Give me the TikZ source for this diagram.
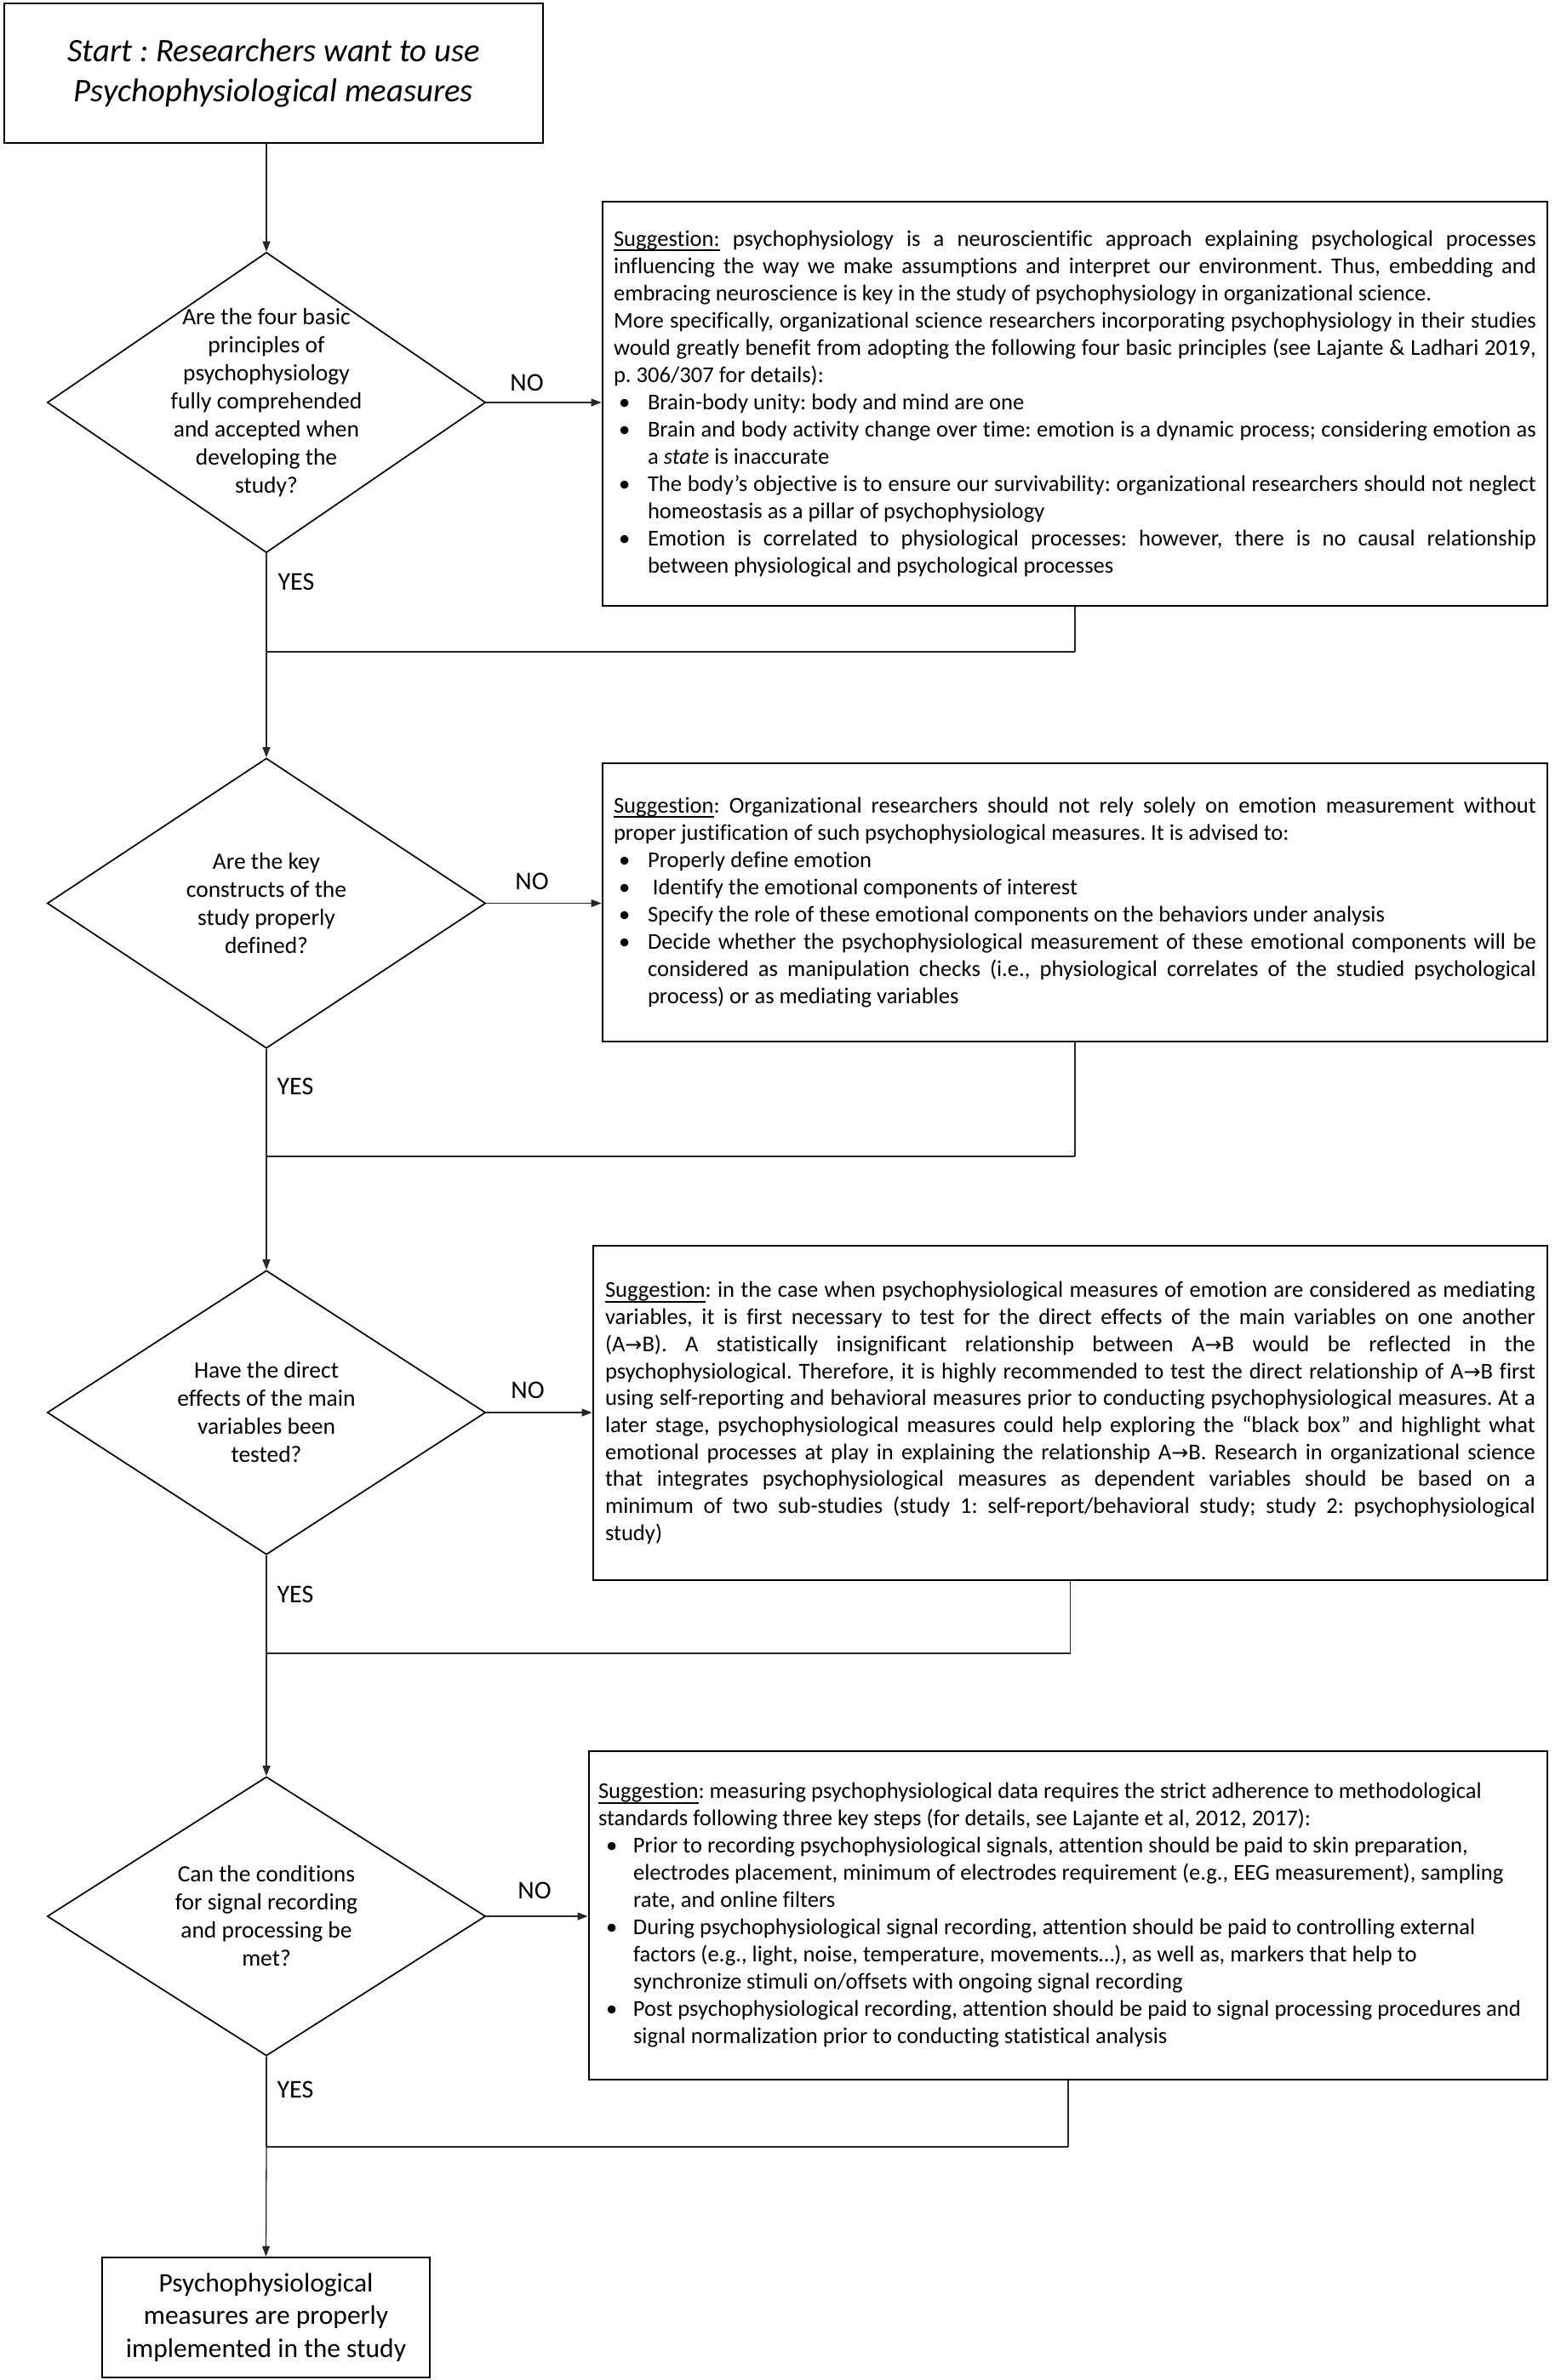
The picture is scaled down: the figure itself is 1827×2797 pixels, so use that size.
\documentclass[tikz,border=0pt]{standalone}
\usepackage{fontspec}
\setmainfont{Carlito}[Ligatures=CommonOff]
\newfontfamily\arrowfont{DejaVu Sans}[Scale=0.9]
\usetikzlibrary{shapes.geometric,arrows.meta}
\frenchspacing
\newlength\bulpos \newlength\bulind
\setlength\bulpos{6pt}\setlength\bulind{40pt}
\newcommand{\TB}[2]{\vbox{\hsize=#1\relax\hrule height0pt depth0pt width\hsize #2}}
\newcommand{\JL}[1]{\hbox to\hsize{#1}}
\newcommand{\NL}[1]{\hbox{#1}}
\newcommand{\Bul}{\hbox to\bulind{\hskip\bulpos •\hfil}}
\newcommand{\BJ}[1]{\hbox to\hsize{\Bul\hbox to\dimexpr\hsize-\bulind\relax{#1}}}
\newcommand{\BN}[1]{\hbox{\Bul#1}}
\newcommand{\CJ}[1]{\hbox to\hsize{\hskip\bulind\hbox to\dimexpr\hsize-\bulind\relax{#1}}}
\newcommand{\CN}[1]{\hbox{\hskip\bulind#1}}
\newcommand{\AB}{A{\arrowfont →}B}
\newcommand{\ulin}[1]{\setbox0\hbox{#1}\rlap{\vrule height-3.6pt depth6pt width\wd0}\box0\relax}
\tikzset{
  sbox/.style={draw, line width=2.8pt, inner ysep=0pt,
    font={\fontsize{26.6}{32}\selectfont}},
  tbox/.style={draw, line width=2.6pt, inner sep=0pt, align=center},
  dshape/.style={draw, shape=diamond, line width=1.7pt, inner sep=0pt,
    minimum width=515pt},
  dtext/.style={align=center, inner sep=0pt, font={\fontsize{27.5}{33}\selectfont}},
  lab/.style={inner sep=0pt, font={\fontsize{30}{32}\selectfont}},
  flow/.style={line width=1.3pt, draw=black!85},
  arr/.style={flow, -{Triangle[length=12pt,width=9pt]}},
  joinline/.style={line width=2.8pt, draw=black!85}
}
\begin{document}
\begin{tikzpicture}[x=1pt, y=-1pt]
\useasboundingbox[fill=white] (0,0) rectangle (1827,2797);

% start
\node[tbox, minimum width=633pt, minimum height=164pt,
  font={\fontsize{38.7}{47}\selectfont\itshape}] (start) at (321.5,86)
  {Start : Researchers want to use\\Psychophysiological measures};

% diamonds
\node[dshape, minimum height=353pt] (d1) at (313,473) {};
\node[dtext] (t1) at (d1.center) {Are the four basic\\principles of\\psychophysiology\\fully comprehended\\and accepted when\\developing the\\study?};
\node[dshape, minimum height=341pt] (d2) at (313,1061.5) {};
\node[dtext] (t2) at (d2.center) {Are the key\\constructs of the\\study properly\\defined?};
\node[dshape, minimum height=334pt] (d3) at (313,1660) {};
\node[dtext] (t3) at (d3.center) {Have the direct\\effects of the main\\variables been\\tested?};
\node[dshape, minimum height=328pt] (d4) at (313,2252) {};
\node[dtext] (t4) at (d4.center) {Can the conditions\\for signal recording\\and processing be\\met?};

% end
\node[tbox, minimum width=385pt, minimum height=141pt,
  font={\fontsize{31.5}{38.5}\selectfont}] (end) at (312.5,2723.5)
  {Psychophysiological\\measures are properly\\implemented in the study};

% suggestion boxes
\node[sbox, inner xsep=13pt, minimum width=1110pt, minimum height=475pt] (b1) at (1263,474.5) {\TB{1084pt}{%
\JL{\ulin{Suggestion:} psychophysiology is a neuroscientific approach explaining psychological processes}
\JL{influencing the way we make assumptions and interpret our environment. Thus, embedding and}
\NL{embracing neuroscience is key in the study of psychophysiology in organizational science.}
\JL{More specifically, organizational science researchers incorporating psychophysiology in their studies}
\JL{would greatly benefit from adopting the following four basic principles (see Lajante \& Ladhari 2019,}
\NL{p. 306/307 for details):}
\BN{Brain-body unity: body and mind are one}
\BJ{Brain and body activity change over time: emotion is a dynamic process; considering emotion as}
\CN{a \textit{state} is inaccurate}
\BJ{The body’s objective is to ensure our survivability: organizational researchers should not neglect}
\CN{homeostasis as a pillar of psychophysiology}
\BJ{Emotion is correlated to physiological processes: however, there is no causal relationship}
\CN{between physiological and psychological processes}}};

\node[sbox, inner xsep=13pt, minimum width=1110pt, minimum height=327pt] (b2) at (1263,1060.5) {\TB{1084pt}{%
\JL{\ulin{Suggestion}: Organizational researchers should not rely solely on emotion measurement without}
\NL{proper justification of such psychophysiological measures. It is advised to:}
\BN{Properly define emotion}
\BN{\hskip6pt Identify the emotional components of interest}
\BN{Specify the role of these emotional components on the behaviors under analysis}
\BJ{Decide whether the psychophysiological measurement of these emotional components will be}
\CJ{considered as manipulation checks (i.e., physiological correlates of the studied psychological}
\CN{process) or as mediating variables}}};

\node[sbox, inner xsep=14pt, minimum width=1121pt, minimum height=393pt, font={\fontsize{26.6}{31.7}\selectfont}] (b3) at (1257.5,1660.5) {\TB{1093pt}{%
\JL{\ulin{Suggestion}: in the case when psychophysiological measures of emotion are considered as mediating}
\JL{variables, it is first necessary to test for the direct effects of the main variables on one another}
\JL{(\AB). A statistically insignificant relationship between \AB{} would be reflected in the}
\JL{psychophysiological. Therefore, it is highly recommended to test the direct relationship of \AB{} first}
\JL{using self-reporting and behavioral measures prior to conducting psychophysiological measures. At a}
\JL{later stage, psychophysiological measures could help exploring the “black box” and highlight what}
\JL{emotional processes at play in explaining the relationship \AB. Research in organizational science}
\JL{that integrates psychophysiological measures as dependent variables should be based on a}
\JL{minimum of two sub-studies (study 1: self-report/behavioral study; study 2: psychophysiological}
\NL{study)}}};

\node[sbox, inner xsep=11pt, minimum width=1126pt, minimum height=386pt] (b4) at (1255,2251) {\TB{1104pt}{%
\setlength\bulpos{9pt}\setlength\bulind{41pt}%
\NL{\ulin{Suggestion}: measuring psychophysiological data requires the strict adherence to methodological}
\NL{standards following three key steps (for details, see Lajante et al, 2012, 2017):}
\BN{Prior to recording psychophysiological signals, attention should be paid to skin preparation,}
\CN{electrodes placement, minimum of electrodes requirement (e.g., EEG measurement), sampling}
\CN{rate, and online filters}
\BN{During psychophysiological signal recording, attention should be paid to controlling external}
\CN{factors (e.g., light, noise, temperature, movements…), as well as, markers that help to}
\CN{synchronize stimuli on/offsets with ongoing signal recording}
\BN{Post psychophysiological recording, attention should be paid to signal processing procedures and}
\CN{signal normalization prior to conducting statistical analysis}}};

% labels
\node[lab] (no1) at (619,450) {NO};
\node[lab] (no2) at (625,1036) {NO};
\node[lab] (no3) at (620,1634) {NO};
\node[lab] (no4) at (628,2222) {NO};
\node[lab] (yes1) at (348,684) {YES};
\node[lab] (yes2) at (347,1277) {YES};
\node[lab] (yes3) at (347,1874) {YES};
\node[lab] (yes4) at (347,2456) {YES};

% join points
\coordinate (j1) at (313,766);
\coordinate (j2) at (313,1359);
\coordinate (j3) at (313,1943);
\coordinate (j4) at (313,2523);

% connectors
\draw[arr] (start.south -| d1.north) -- (d1.north);
\draw[arr] (d1.east) -- (d1.east -| b1.west);
\draw[arr] (d2.east) -- (d2.east -| b2.west);
\draw[arr] (d3.east) -- (d3.east -| b3.west);
\draw[arr] (d4.east) -- (d4.east -| b4.west);

\draw[flow] (d1.south) -- (j1);
\draw[flow] (b1.south) -- (b1.south |- j1);
\draw[joinline] (b1.south |- j1) -- (j1);
\draw[arr] (j1) -- (d2.north);

\draw[flow] (d2.south) -- (j2);
\draw[flow] (b2.south) -- (b2.south |- j2);
\draw[joinline] (b2.south |- j2) -- (j2);
\draw[arr] (j2) -- (d3.north);

\draw[flow] (d3.south) -- (j3);
\draw[flow] (b3.south) -- (b3.south |- j3);
\draw[joinline] (b3.south |- j3) -- (j3);
\draw[arr] (j3) -- (d4.north);

\draw[flow] (d4.south) -- (j4);
\draw[flow] (b4.south) -- (b4.south |- j4);
\draw[joinline] (b4.south |- j4) -- (j4);
\draw[arr] (j4) -- (end.north);
\end{tikzpicture}
\end{document}
